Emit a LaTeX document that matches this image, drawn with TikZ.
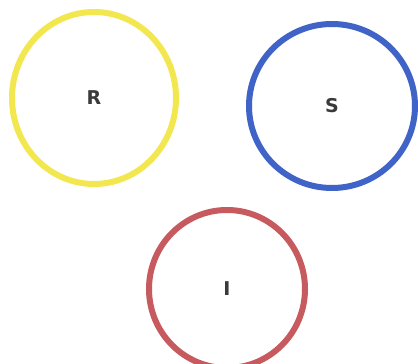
\documentclass[tikz,border=0pt]{standalone}
\usepackage{fontspec}
\usepackage{tikz}
\usetikzlibrary{shapes.geometric}
\setmainfont{DejaVu Sans}
\definecolor{lemon}{HTML}{F2E74E}
\definecolor{cobalt}{HTML}{3F63C6}
\definecolor{brick}{HTML}{C75A5F}
\definecolor{ink}{HTML}{3A3A3A}
\tikzset{
  ring/.style={ellipse, line width=6pt, text=ink, font=\bfseries\fontsize{19}{22}\selectfont, inner sep=0pt}
}

\begin{document}
\begin{tikzpicture}[x=1pt,y=1pt]
    % Page frame
    \useasboundingbox (0,0) rectangle (418,364);
    \clip (0,0) rectangle (418,364);

    % The three rings
    \node[ring, draw=lemon, minimum width=164pt, minimum height=172pt] (R) at (94,266) {R};
    \node[ring, draw=cobalt, minimum width=166pt, minimum height=164pt] (S) at (332,258) {S};
    \node[ring, draw=brick, minimum width=156pt, minimum height=158pt] (I) at (227,75) {I};

\end{tikzpicture}
\end{document}
